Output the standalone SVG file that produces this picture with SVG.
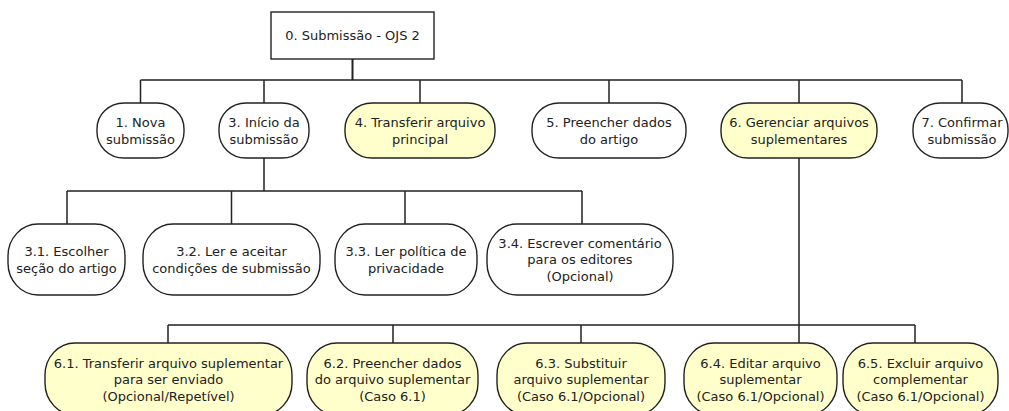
<svg xmlns="http://www.w3.org/2000/svg" width="1009" height="411" viewBox="0 0 1009 411">
  <style>
    .box { fill: #ffffff; stroke: #222222; stroke-width: 1.4; }
    .task { fill: #ffffff; stroke: #222222; stroke-width: 1.4; }
    .hl { fill: #ffffcc; }
    .wire { fill: none; stroke: #222222; stroke-width: 1.5; }
    text { font-family: "DejaVu Sans", Verdana, sans-serif; font-size: 13px; fill: #222222; text-anchor: middle; }
  </style>

  <rect width="1009" height="411" fill="#ffffff"/>

  <!-- connectors -->
  <g id="connectors" class="wire">
    <path d="M352.5 59 V80" stroke-width="2"/>
    <path d="M140.5 80 H962 M140.5 80 V103 M264 80 V103 M420 80 V103 M609 80 V103 M799 80 V103 M962 80 V103"/>
    <path d="M264 158 V191 M67 191 H582 M67 191 V224 M231.5 191 V224 M405 191 V224 M582 191 V224"/>
    <path d="M799 158 V343 M168 325 H915 M168 325 V343 M393 325 V343 M581 325 V343 M915 325 V343"/>
  </g>

  <!-- root -->
  <g id="n0">
    <rect class="box" x="271" y="12" width="163" height="47"/>
    <text x="352.5" y="40">0. Submissão - OJS 2</text>
  </g>

  <!-- first level -->
  <g id="n1">
    <rect class="task" x="97" y="103" width="87" height="55" rx="27" ry="26"/>
    <text x="140.5" y="127">1. Nova</text>
    <text x="140.5" y="144">submissão</text>
  </g>
  <g id="n3">
    <rect class="task" x="219" y="103" width="90" height="55" rx="27" ry="26"/>
    <text x="264" y="127">3. Início da</text>
    <text x="264" y="144">submissão</text>
  </g>
  <g id="n4">
    <rect class="task hl" x="345" y="103" width="150" height="55" rx="27" ry="26"/>
    <text x="420" y="127">4. Transferir arquivo</text>
    <text x="420" y="144">principal</text>
  </g>
  <g id="n5">
    <rect class="task" x="532" y="103" width="154" height="55" rx="27" ry="26"/>
    <text x="609" y="127">5. Preencher dados</text>
    <text x="609" y="144">do artigo</text>
  </g>
  <g id="n6">
    <rect class="task hl" x="721" y="103" width="156" height="55" rx="27" ry="26"/>
    <text x="799" y="127">6. Gerenciar arquivos</text>
    <text x="799" y="144">suplementares</text>
  </g>
  <g id="n7">
    <rect class="task" x="913" y="103" width="95" height="55" rx="27" ry="26"/>
    <text x="962" y="127">7. Confirmar</text>
    <text x="962" y="144">submissão</text>
  </g>

  <!-- children of 3 -->
  <g id="n3-1">
    <rect class="task" x="8" y="224" width="117" height="71" rx="30" ry="32"/>
    <text x="66.5" y="256">3.1. Escolher</text>
    <text x="66.5" y="273">seção do artigo</text>
  </g>
  <g id="n3-2">
    <rect class="task" x="143" y="224" width="177" height="71" rx="30" ry="32"/>
    <text x="231.5" y="256">3.2. Ler e aceitar</text>
    <text x="231.5" y="273">condições de submissão</text>
  </g>
  <g id="n3-3">
    <rect class="task" x="335" y="224" width="142" height="71" rx="30" ry="32"/>
    <text x="406" y="256">3.3. Ler política de</text>
    <text x="406" y="273">privacidade</text>
  </g>
  <g id="n3-4">
    <rect class="task" x="487" y="224" width="186" height="71" rx="30" ry="32"/>
    <text x="580" y="247.5">3.4. Escrever comentário</text>
    <text x="580" y="264">para os editores</text>
    <text x="580" y="280.5">(Opcional)</text>
  </g>

  <!-- children of 6 -->
  <g id="n6-1">
    <rect class="task hl" x="45" y="343" width="247" height="72" rx="30" ry="32"/>
    <text x="168.5" y="367.5">6.1. Transferir arquivo suplementar</text>
    <text x="168.5" y="384">para ser enviado</text>
    <text x="168.5" y="400.5">(Opcional/Repetível)</text>
  </g>
  <g id="n6-2">
    <rect class="task hl" x="307" y="343" width="171" height="72" rx="30" ry="32"/>
    <text x="392.5" y="367.5">6.2. Preencher dados</text>
    <text x="392.5" y="384">do arquivo suplementar</text>
    <text x="392.5" y="400.5">(Caso 6.1)</text>
  </g>
  <g id="n6-3">
    <rect class="task hl" x="497" y="343" width="168" height="72" rx="30" ry="32"/>
    <text x="581" y="367.5">6.3. Substituir</text>
    <text x="581" y="384">arquivo suplementar</text>
    <text x="581" y="400.5">(Caso 6.1/Opcional)</text>
  </g>
  <g id="n6-4">
    <rect class="task hl" x="684" y="343" width="153" height="72" rx="30" ry="32"/>
    <text x="760.5" y="367.5">6.4. Editar arquivo</text>
    <text x="760.5" y="384">suplementar</text>
    <text x="760.5" y="400.5">(Caso 6.1/Opcional)</text>
  </g>
  <g id="n6-5">
    <rect class="task hl" x="843" y="343" width="155" height="72" rx="30" ry="32"/>
    <text x="920.5" y="367.5">6.5. Excluir arquivo</text>
    <text x="920.5" y="384">complementar</text>
    <text x="920.5" y="400.5">(Caso 6.1/Opcional)</text>
  </g>
</svg>
